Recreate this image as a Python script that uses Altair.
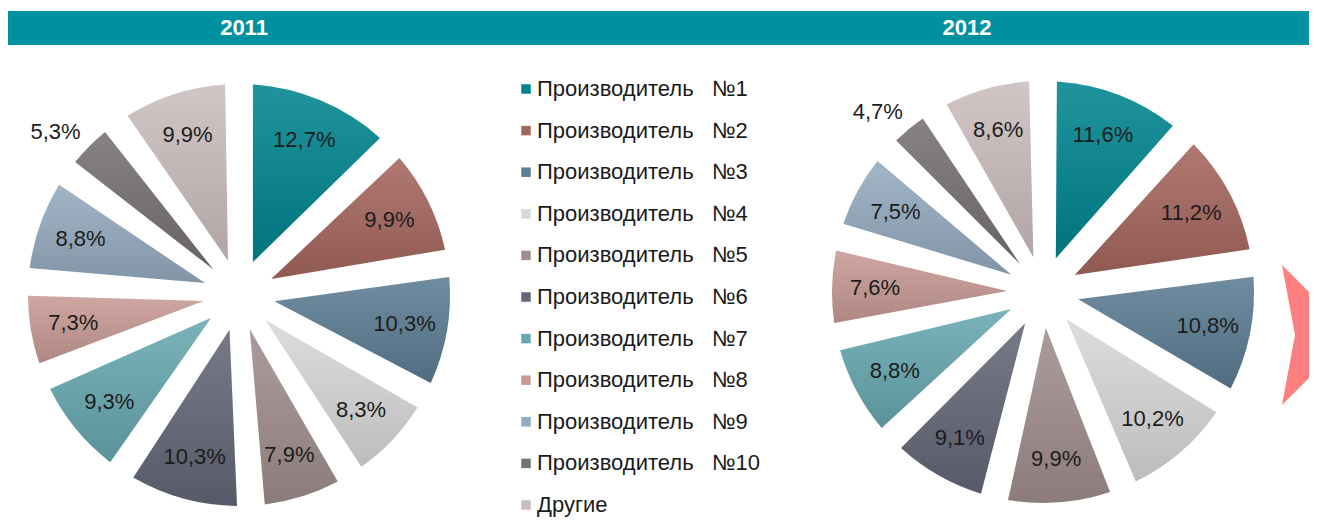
import altair as alt
import pandas as pd

# ---------------- data ----------------
years = ["2011", "2012"]
categories = [
    "Производитель\u00a0\u00a0\u00a0№1",
    "Производитель\u00a0\u00a0\u00a0№2",
    "Производитель\u00a0\u00a0\u00a0№3",
    "Производитель\u00a0\u00a0\u00a0№4",
    "Производитель\u00a0\u00a0\u00a0№5",
    "Производитель\u00a0\u00a0\u00a0№6",
    "Производитель\u00a0\u00a0\u00a0№7",
    "Производитель\u00a0\u00a0\u00a0№8",
    "Производитель\u00a0\u00a0\u00a0№9",
    "Производитель\u00a0\u00a0\u00a0№10",
    "Другие",
]
values_2011 = [12.7, 9.9, 10.3, 8.3, 7.9, 10.3, 9.3, 7.3, 8.8, 5.3, 9.9]
values_2012 = [11.6, 11.2, 10.8, 10.2, 9.9, 9.1, 8.8, 7.6, 7.5, 4.7, 8.6]
colors = [
    "#00858f", "#a5665e", "#5c7c93", "#d8d8d8", "#a08e8d", "#636778",
    "#68a8b0", "#c89a95", "#94abbf", "#777171", "#cbbdbd",
]

rows = []
for yr, vals in zip(years, [values_2011, values_2012]):
    for i, (c, v) in enumerate(zip(categories, vals)):
        rows.append({
            "year": yr, "category": c, "order": i, "value": v,
            "label": f"{v:.1f}".replace(".", ",") + "%",
        })
df = pd.DataFrame(rows)

# ---------------- layout ----------------
W, H = 1301, 509
centers = {"2011": (231, 287), "2012": (1035, 284)}
header_x = {"2011": 236, "2012": 959}
R_OUT, R_IN, PAD = 211, 36, 0.13
LABEL_R, OUT_LABEL_R = 168, 246
FONT = "Liberation Sans"
small_cat = categories[9]

theta_scale = alt.Scale(domain=[0, 100])
color_scale = alt.Scale(domain=categories, range=colors)

shade = alt.Gradient(
    gradient="linear",
    stops=[
        alt.GradientStop(color="rgba(255,255,255,0.12)", offset=0),
        alt.GradientStop(color="rgba(0,0,0,0.13)", offset=1),
    ],
    x1=0, x2=0, y1=0, y2=1,
)

base = (
    alt.Chart(df)
    .transform_window(cum="sum(value)", groupby=["year"], sort=[alt.SortField("order")])
    .transform_calculate(start="datum.cum - datum.value", mid="datum.cum - datum.value / 2")
)

layers = []

# header bar
layers.append(
    alt.Chart(pd.DataFrame({"k": [0]}))
    .mark_rect(color="#0091a0")
    .encode(x=alt.value(0), x2=alt.value(W), y=alt.value(3), y2=alt.value(37))
)
for yr in years:
    layers.append(
        alt.Chart(pd.DataFrame({"year": [yr]}))
        .mark_text(font=FONT, fontSize=22, fontWeight="bold", color="white", baseline="middle")
        .encode(text="year:N", x=alt.value(header_x[yr]), y=alt.value(20))
    )

legend = alt.Legend(
    title=None, orient="none", legendX=507, legendY=70, direction="vertical",
    symbolType="square", symbolSize=90, symbolStrokeWidth=0,
    labelFont=FONT, labelFontSize=22, labelColor="#1a1a1a", labelLimit=500,
    labelOffset=0, rowPadding=19.6, padding=0,
)

for yr in years:
    cx, cy = centers[yr]
    b = base.transform_filter(alt.datum.year == yr)
    pos = dict(x=alt.value(cx), y=alt.value(cy))
    th = dict(theta=alt.Theta("start:Q", stack=None, scale=theta_scale), theta2="cum:Q")
    layers.append(
        b.mark_arc(outerRadius=R_OUT, innerRadius=R_IN, padAngle=PAD).encode(
            color=alt.Color("category:N", scale=color_scale, legend=legend), **th, **pos
        )
    )
    layers.append(
        b.mark_arc(outerRadius=R_OUT, innerRadius=R_IN, padAngle=PAD, fill=shade).encode(**th, **pos)
    )
    tm = alt.Theta("mid:Q", stack=None, scale=theta_scale)
    layers.append(
        b.transform_filter(alt.datum.category != small_cat)
        .mark_text(radius=LABEL_R, font=FONT, fontSize=22, color="#1c1c1c", baseline="middle")
        .encode(theta=tm, text="label:N", **pos)
    )
    layers.append(
        b.transform_filter(alt.datum.category == small_cat)
        .mark_text(radius=OUT_LABEL_R, font=FONT, fontSize=22, color="#1c1c1c",
                   baseline="middle", dx=-9, dy=10)
        .encode(theta=tm, text="label:N", **pos)
    )

# decorative arrow on the right edge
layers.append(
    alt.Chart(pd.DataFrame({"k": [0]}))
    .mark_point(shape="M -0.5 -1 L 0.5 0 L -0.5 1 L -0.314 0 Z", size=19600,
                filled=True, fill="#ff7f7f", opacity=1, strokeWidth=0)
    .encode(x=alt.value(1309), y=alt.value(327))
)

chart = (
    alt.layer(*layers)
    .properties(width=W, height=H, autosize=alt.AutoSizeParams(type="none"), padding=0)
    .configure_view(strokeWidth=0)
)

chart.save("out.html", embed_options={"renderer": "svg", "actions": False})
